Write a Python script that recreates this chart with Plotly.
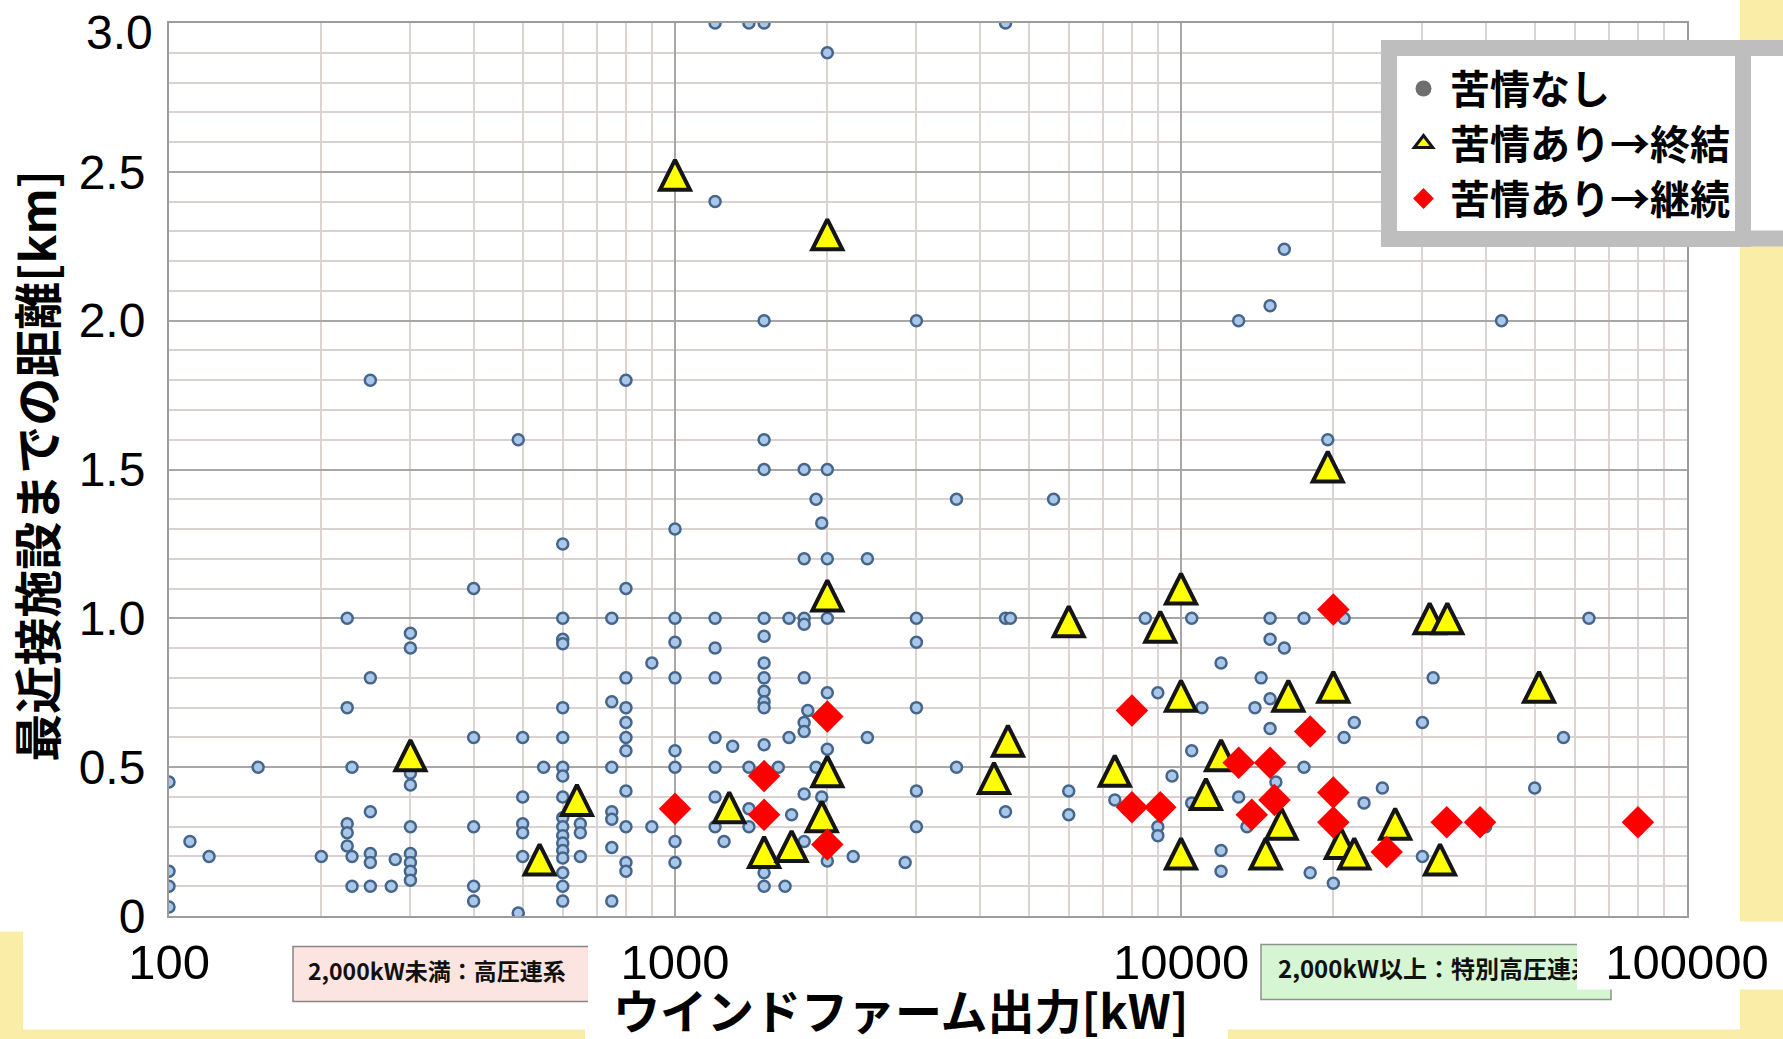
import plotly.graph_objects as go

# ---------------- data ----------------
# 苦情なし  (wind farm output kW, distance km)
none_pts = [
    (100, 0.45), (100, 0.15), (100, 0.10), (100, 0.03),
    (110, 0.25), (120, 0.20), (150, 0.50), (200, 0.20),
    (225, 1.00), (225, 0.70), (225, 0.31), (225, 0.28), (225, 0.235),
    (230, 0.50), (230, 0.20), (230, 0.10),
    (250, 1.80), (250, 0.80), (250, 0.35), (250, 0.21), (250, 0.18), (250, 0.10),
    (275, 0.10), (280, 0.19),
    (300, 0.95), (300, 0.90), (300, 0.48), (300, 0.44), (300, 0.30), (300, 0.21),
    (300, 0.18), (300, 0.15), (300, 0.12),
    (400, 1.10), (400, 0.60), (400, 0.30), (400, 0.10), (400, 0.05),
    (490, 1.60), (490, 0.01),
    (500, 0.60), (500, 0.40), (500, 0.31), (500, 0.28), (500, 0.20),
    (550, 0.50),
    (600, 1.25), (600, 1.00), (600, 0.93), (600, 0.915), (600, 0.70), (600, 0.60),
    (600, 0.50), (600, 0.47), (600, 0.40), (600, 0.33), (600, 0.30), (600, 0.27),
    (600, 0.245), (600, 0.22), (600, 0.195), (600, 0.145), (600, 0.10), (600, 0.05),
    (650, 0.31), (650, 0.28), (650, 0.20),
    (750, 1.00), (750, 0.72), (750, 0.50), (750, 0.35), (750, 0.325), (750, 0.23), (750, 0.05),
    (800, 1.80), (800, 1.10), (800, 0.80), (800, 0.70), (800, 0.65), (800, 0.60),
    (800, 0.555), (800, 0.42), (800, 0.30), (800, 0.18), (800, 0.15),
    (900, 0.85), (900, 0.30),
    (1000, 1.30), (1000, 1.00), (1000, 0.92), (1000, 0.80), (1000, 0.555), (1000, 0.50),
    (1000, 0.25), (1000, 0.18),
    (1200, 3.00), (1200, 2.40), (1200, 1.00), (1200, 0.90), (1200, 0.80), (1200, 0.60),
    (1200, 0.50), (1200, 0.40), (1200, 0.30),
    (1250, 0.25), (1300, 0.57),
    (1400, 3.00), (1400, 0.50), (1400, 0.36), (1400, 0.30),
    (1500, 3.00), (1500, 2.00), (1500, 1.60), (1500, 1.50), (1500, 1.00), (1500, 0.94),
    (1500, 0.85), (1500, 0.80), (1500, 0.755), (1500, 0.72), (1500, 0.70), (1500, 0.575),
    (1500, 0.145), (1500, 0.10),
    (1600, 0.50), (1680, 1.00), (1680, 0.60), (1650, 0.10), (1700, 0.34),
    (1800, 1.50), (1800, 1.20), (1800, 1.00), (1800, 0.98), (1800, 0.80), (1830, 0.69),
    (1800, 0.65), (1800, 0.62), (1800, 0.41), (1800, 0.25),
    (1900, 1.40), (1900, 0.50), (1950, 1.32), (1950, 0.40),
    (2000, 2.90), (2000, 1.50), (2000, 1.20), (2000, 1.00), (2000, 0.75), (2000, 0.56), (2000, 0.185),
    (2250, 0.20), (2400, 1.20), (2400, 0.60), (2850, 0.18),
    (3000, 2.00), (3000, 1.00), (3000, 0.92), (3000, 0.70), (3000, 0.42), (3000, 0.30),
    (3600, 1.40), (3600, 0.50),
    (4500, 3.00), (4500, 1.00), (4600, 1.00), (4500, 0.35),
    (5600, 1.40), (6000, 0.42), (6000, 0.34), (7400, 0.39), (8500, 1.00),
    (9000, 0.75), (9000, 0.30), (9000, 0.27), (9600, 0.47),
    (10500, 1.00), (10500, 0.555), (10500, 0.38), (11000, 0.70),
    (12000, 0.85), (12000, 0.22), (12000, 0.15),
    (13000, 2.00), (13000, 0.40), (13500, 0.30), (14000, 0.70), (14400, 0.80),
    (15000, 2.05), (15000, 1.00), (15000, 0.93), (15000, 0.73), (15000, 0.63), (15400, 0.45),
    (16000, 2.24), (16000, 0.90), (17500, 1.00), (17500, 0.50), (18000, 0.145), (19500, 1.60),
    (20000, 0.11), (21000, 1.00), (21000, 0.60), (22000, 0.65), (23000, 0.38), (25000, 0.43),
    (30000, 0.65), (30000, 0.20), (31500, 0.80), (40000, 0.30), (43000, 2.00),
    (50000, 0.43), (57000, 0.60), (64000, 1.00),
]

# 苦情あり→終結
ended_pts = [
    (300, 0.54), (540, 0.19), (640, 0.39), (1000, 2.49), (1280, 0.365), (1500, 0.215),
    (1700, 0.235), (1950, 0.335), (2000, 0.486), (2000, 1.077), (2000, 2.29),
    (4270, 0.464), (4550, 0.589), (6000, 0.99), (7400, 0.488), (9100, 0.972),
    (10000, 1.10), (10000, 0.74), (10000, 0.21), (11200, 0.41), (12000, 0.54),
    (14700, 0.21), (15800, 0.31), (16300, 0.74), (19500, 1.51), (20000, 0.77),
    (20700, 0.245), (22000, 0.21), (26500, 0.31), (31000, 1.00), (33600, 1.00),
    (32500, 0.19), (51000, 0.77),
]

# 苦情あり→継続
ongoing_pts = [
    (1000, 0.36), (1500, 0.47), (1500, 0.34), (2000, 0.67), (2000, 0.24),
    (8000, 0.69), (8000, 0.365), (9100, 0.365), (13000, 0.515), (15000, 0.515),
    (13800, 0.34), (15300, 0.39), (18000, 0.62), (20000, 1.03), (20000, 0.415),
    (20000, 0.315), (25500, 0.215), (33500, 0.315), (39000, 0.315), (80000, 0.315),
]

none_x = [p[0] for p in none_pts]
none_y = [p[1] for p in none_pts]
ended_x = [p[0] for p in ended_pts]
ended_y = [p[1] for p in ended_pts]
ongoing_x = [p[0] for p in ongoing_pts]
ongoing_y = [p[1] for p in ongoing_pts]

series_names = ["苦情なし", "苦情あり→終結", "苦情あり→継続"]
x_tickvals = [100, 1000, 10000, 100000]
x_ticktext = ["100", "1000", "10000", "100000"]
x_minorvals = [m * d for d in (100, 1000, 10000) for m in range(2, 10)]
y_tickvals = [0, 0.5, 1.0, 1.5, 2.0, 2.5, 3.0]
y_ticktext = ["0", "0.5", "1.0", "1.5", "2.0", "2.5", ""]   # top label drawn below as text
y_top_label = "3.0"

# ---------------- layout geometry ----------------
W, H = 1783, 1039
PL, PR, PT, PB = 169, 1687, 23, 916.5  # plot area edges (px)


def px(x):
    return (x - PL) / (PR - PL)


def py(y):
    return (PB - y) / (PB - PT)


CJK = "Noto Sans CJK JP"
YELLOW = "#F9EDA8"
LEG_TOP = 40          # legend outer top (px)
LEG_BORDER = 16
TRI_SIZE = 30

fig = go.Figure()

fig.add_trace(go.Scatter(
    x=none_x, y=none_y, mode="markers", name=series_names[0], showlegend=False,
    marker=dict(symbol="circle", size=11, color="#A9C7E8",
                line=dict(color="#45658A", width=2.5)),
))
# tall triangle: arrow shape turned to point up and re-centred on the data point
fig.add_trace(go.Scatter(
    x=ended_x, y=ended_y, mode="markers", name=series_names[1], showlegend=False,
    marker=dict(symbol="arrow-down", angle=180, standoff=TRI_SIZE / 2,
                size=TRI_SIZE, color="#FFFF00",
                line=dict(color="#151515", width=4)),
))
fig.add_trace(go.Scatter(
    x=ongoing_x, y=ongoing_y, mode="markers", name=series_names[2], showlegend=False,
    marker=dict(symbol="diamond", size=25, color="#FF0000", line=dict(width=0)),
))

# legend entries (styled as in the reference legend)
fig.add_trace(go.Scatter(x=[None], y=[None], mode="markers", name="<b>" + series_names[0] + "</b>",
                         marker=dict(symbol="circle", size=16, color="#6E6E6E")))
fig.add_trace(go.Scatter(x=[None], y=[None], mode="markers", name="<b>" + series_names[1] + "</b>",
                         marker=dict(symbol="triangle-up", size=16, color="#FFFF00",
                                     line=dict(color="#151515", width=3))))
fig.add_trace(go.Scatter(x=[None], y=[None], mode="markers", name="<b>" + series_names[2] + "</b>",
                         marker=dict(symbol="diamond", size=16, color="#FF0000", line=dict(width=0))))


def rect(x0, y0, x1, y1, fill, line_color=None, line_width=0, label=None):
    s = dict(type="rect", xref="paper", yref="paper",
             x0=px(x0), x1=px(x1), y0=py(y1), y1=py(y0),
             fillcolor=fill, layer="below",
             line=dict(color=line_color or fill, width=line_width))
    if label is not None:
        s["label"] = label
    return s


shapes = [
    # yellow slide decorations
    rect(1740, -5, 1790, 1045, YELLOW),
    rect(-5, 932, 23, 1045, YELLOW),
    rect(-5, 1030, 585, 1045, YELLOW),
    rect(1228, 1030, 1790, 1045, YELLOW),
    # legend frame continuing past the right edge of the slide
    rect(1650, LEG_TOP + LEG_BORDER / 2, 1800, 246.5 - LEG_BORDER / 2, "#FFFFFF", "#BEBEBE", LEG_BORDER),
    # annotation boxes under the x axis
    rect(293, 947, 600, 1002, "#FCE5E0", "#8C8484", 1.5,
         label=dict(text="<b>2,000kW未満：高圧連系</b>", textposition="middle left",
                    padding=12, font=dict(family=CJK, size=23, color="#111111"))),
    rect(588, 928, 780, 1012, "#FFFFFF"),
    rect(1261, 945, 1611, 1000, "#D6F5D2", "#8C948C", 1.5,
         label=dict(text="<b>2,000kW以上：特別高圧連系</b>", textposition="middle left",
                    padding=14, font=dict(family=CJK, size=24, color="#111111"))),
    rect(1577, 922, 1790, 990, "#FFFFFF"),
]

annotations = [
    dict(text="<b>最近接施設までの距離[km]</b>", textangle=-90,
         xref="paper", yref="paper", x=px(35), y=py(466),
         xanchor="center", yanchor="middle", showarrow=False,
         font=dict(family=CJK, size=48, color="#000000")),
    dict(text="<b>ウインドファーム出力[kW]</b>",
         xref="paper", yref="paper", x=px(901), y=py(1009),
         xanchor="center", yanchor="middle", showarrow=False,
         font=dict(family=CJK, size=47, color="#000000")),
    dict(text=y_top_label, xref="paper", yref="paper", x=px(155), y=py(33),
         xanchor="right", yanchor="middle", showarrow=False,
         font=dict(family="Liberation Sans", size=48, color="#000000")),
]

fig.update_layout(
    width=W, height=H,
    margin=dict(l=PL, r=W - PR, t=PT, b=H - PB, autoexpand=False),
    paper_bgcolor="#FFFFFF", plot_bgcolor="#FFFFFF",
    shapes=shapes, annotations=annotations,
    showlegend=True,
    legend=dict(
        xref="container", yref="container",
        x=1381 / W, y=1 - LEG_TOP / H, xanchor="left", yanchor="top",
        bgcolor="#FFFFFF", bordercolor="#BEBEBE", borderwidth=LEG_BORDER,
        font=dict(family=CJK, size=40, color="#000000"),
        itemsizing="trace", tracegroupgap=0, itemwidth=43,
    ),
    xaxis=dict(
        type="log", range=[2, 5],
        tickmode="array", tickvals=x_tickvals, ticktext=x_ticktext,
        ticks="", ticklabelstandoff=2, ticklabeloverflow="allow",
        tickfont=dict(family="Liberation Sans", size=49, color="#000000"),
        showgrid=True, gridcolor="#A9A6A6", gridwidth=2,
        minor=dict(tickvals=x_minorvals, showgrid=True, gridcolor="#DDD3D1", gridwidth=1.6, ticks=""),
        showline=True, linecolor="#9C9C9C", linewidth=2, mirror=True,
        zeroline=False,
    ),
    yaxis=dict(
        range=[0, 3.0],
        tickmode="array", tickvals=y_tickvals, ticktext=y_ticktext,
        ticks="", ticklabelstandoff=12, ticklabeloverflow="allow",
        tickfont=dict(family="Liberation Sans", size=48, color="#000000"),
        showgrid=True, gridcolor="#A9A6A6", gridwidth=2,
        minor=dict(dtick=0.1, showgrid=True, gridcolor="#DAD2D0", gridwidth=1.6, ticks=""),
        showline=True, linecolor="#9C9C9C", linewidth=2, mirror=True,
        zeroline=False,
    ),
)

fig.write_html("out.html", config={"displayModeBar": False},
               post_script="document.body.style.margin='0px';")
